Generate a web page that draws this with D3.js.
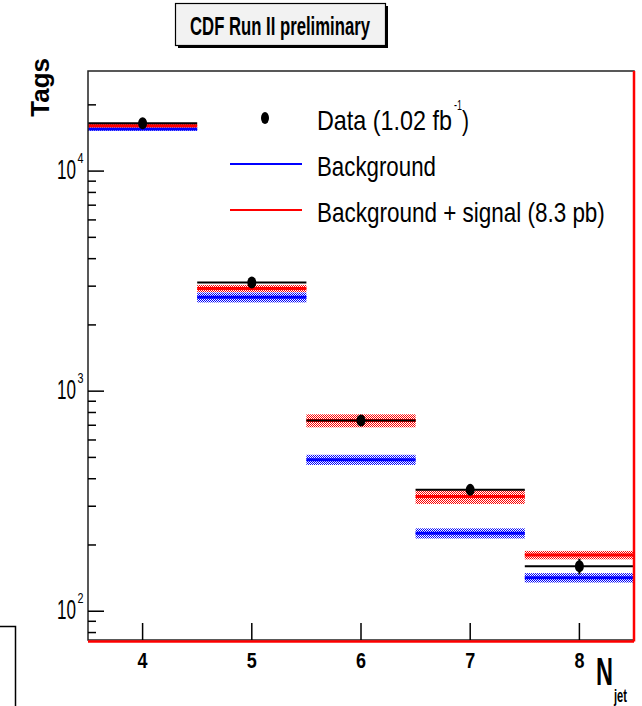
<!DOCTYPE html>
<html>
<head>
<meta charset="utf-8">
<script src="https://cdn.jsdelivr.net/npm/d3@7"></script>
<style>
  html, body { margin: 0; padding: 0; background: #fff; }
  svg { display: block; }
  text { font-family: "Liberation Sans", Arial, sans-serif; fill: #000; }
</style>
</head>
<body>
<div id="chart"></div>
<script>
// N_jet bins
const categories = [4, 5, 6, 7, 8];
// observed tags and their error
const dataVals = [16480, 3120, 736, 356, 160];
const dataErr = [130, 56, 27, 19, 13];
// background prediction (blue) with uncertainty
const bgVals = [15520, 2670, 488, 226, 142];
const bgErr = [280, 140, 26, 12, 7];
// background + signal (red) with uncertainty
const sigVals = [16070, 2930, 735, 332, 180];
const sigErr = [300, 110, 50, 25, 8];

const yMajor = [100, 1000, 10000];
const yMinor = [80, 90, 200, 300, 400, 500, 600, 700, 800, 900,
                2000, 3000, 4000, 5000, 6000, 7000, 8000, 9000, 20000];
const yMajorExp = ["2", "3", "4"];

const legendItems = [
    { label: "Data (1.02 fb", type: "dot", width: 135 },
    { label: "Background", type: "line", color: "#0000ff", width: 119 },
    { label: "Background + signal (8.3 pb)", type: "line", color: "#ff0000", width: 288 },
];

const W = 642, H = 706;
const frame = { left: 88, right: 634, top: 71, bottom: 640 };

const svg = d3.select("#chart").append("svg").attr("width", W).attr("height", H);

const x = d3.scaleLinear().domain([3.5, 8.5]).range([frame.left, frame.right]);
const y = d3.scaleLog().domain([74, 28500]).range([frame.bottom, frame.top]);

// hatch patterns (checkerboard like the ROOT fill style)
const defs = svg.append("defs");
function checker(id, color) {
    const p = defs.append("pattern").attr("id", id)
        .attr("width", 2).attr("height", 2).attr("patternUnits", "userSpaceOnUse");
    p.append("rect").attr("x", 0).attr("y", 0).attr("width", 1).attr("height", 1).attr("fill", color);
    p.append("rect").attr("x", 1).attr("y", 1).attr("width", 1).attr("height", 1).attr("fill", color);
}
checker("hatchBlue", "#0000ff");
checker("hatchRed", "#ff0000");

// the original fonts are condensed: squeeze each text horizontally to its measured width
function label(g, str, px, py, size, width, opts = {}) {
    const t = g.append("text").attr("font-size", size)
        .attr("text-anchor", opts.anchor || "start")
        .text(str);
    if (opts.bold) t.attr("font-weight", "bold");
    const natural = t.node().getComputedTextLength();
    const sx = Math.min(1, width / natural);
    t.attr("transform", `translate(${px},${py}) scale(${sx},1)`);
    return t;
}

// title box
svg.append("rect").attr("x", 178).attr("y", 6).attr("width", 210).attr("height", 42).attr("fill", "#000");
svg.append("rect").attr("x", 175.5).attr("y", 3.5).attr("width", 210).attr("height", 42)
    .attr("fill", "#f2f2f2").attr("stroke", "#000").attr("stroke-width", 1.2);
label(svg, "CDF Run II preliminary", 280, 35, 25, 180, { anchor: "middle", bold: true });

// little stray pad corner at bottom-left
svg.append("path").attr("d", "M0,626.5 H15.5 V706").attr("fill", "none").attr("stroke", "#000").attr("stroke-width", 1.5);

const plot = svg.append("g");
const bins = categories.map((c, i) => ({
    c, data: dataVals[i], dErr: dataErr[i],
    bg: bgVals[i], bgE: bgErr[i], sig: sigVals[i], sigE: sigErr[i],
}));

function drawHist(valKey, errKey, color, pattern) {
    plot.selectAll(null).data(bins).enter().append("rect")
        .attr("x", d => x(d.c - 0.5))
        .attr("width", d => x(d.c + 0.5) - x(d.c - 0.5))
        .attr("y", d => y(d[valKey] + d[errKey]))
        .attr("height", d => y(d[valKey] - d[errKey]) - y(d[valKey] + d[errKey]))
        .attr("fill", `url(#${pattern})`);
    plot.selectAll(null).data(bins).enter().append("line")
        .attr("x1", d => x(d.c - 0.5)).attr("x2", d => x(d.c + 0.5))
        .attr("y1", d => y(d[valKey])).attr("y2", d => y(d[valKey]))
        .attr("stroke", color).attr("stroke-width", 3);
}
drawHist("bg", "bgE", "#0000ff", "hatchBlue");
drawHist("sig", "sigE", "#ff0000", "hatchRed");

// data: black bin lines, error bars, markers
plot.selectAll(null).data(bins).enter().append("line")
    .attr("x1", d => x(d.c - 0.5)).attr("x2", d => x(d.c + 0.5))
    .attr("y1", d => y(d.data)).attr("y2", d => y(d.data))
    .attr("stroke", "#000").attr("stroke-width", 2);
plot.selectAll(null).data(bins).enter().append("line")
    .attr("x1", d => x(d.c)).attr("x2", d => x(d.c))
    .attr("y1", d => y(d.data - d.dErr)).attr("y2", d => y(d.data + d.dErr))
    .attr("stroke", "#000").attr("stroke-width", 2);
plot.selectAll(null).data(bins).enter().append("ellipse")
    .attr("cx", d => x(d.c)).attr("cy", d => y(d.data))
    .attr("rx", 4.5).attr("ry", 6).attr("fill", "#000");

// frame
svg.append("rect").attr("x", frame.left).attr("y", frame.top)
    .attr("width", frame.right - frame.left).attr("height", frame.bottom - frame.top)
    .attr("fill", "none").attr("stroke", "#222").attr("stroke-width", 1.5);
svg.append("line").attr("x1", frame.right).attr("x2", frame.right)
    .attr("y1", frame.top).attr("y2", frame.bottom + 1.5)
    .attr("stroke", "#ff0000").attr("stroke-width", 2.5);
svg.append("line").attr("x1", frame.left).attr("x2", frame.right)
    .attr("y1", frame.bottom + 1.5).attr("y2", frame.bottom + 1.5)
    .attr("stroke", "#ff0000").attr("stroke-width", 2.5);

// y ticks (inside)
svg.append("g").selectAll("line").data(yMajor).enter().append("line")
    .attr("x1", frame.left).attr("x2", frame.left + 16)
    .attr("y1", d => y(d)).attr("y2", d => y(d))
    .attr("stroke", "#000").attr("stroke-width", 1.5);
svg.append("g").selectAll("line").data(yMinor).enter().append("line")
    .attr("x1", frame.left).attr("x2", frame.left + 8)
    .attr("y1", d => y(d)).attr("y2", d => y(d))
    .attr("stroke", "#000").attr("stroke-width", 1.5);
yMajor.forEach((v, i) => {
    const ty = y(v);
    label(svg, "10", 57, ty + 8, 27, 19);
    label(svg, yMajorExp[i], 77.5, ty - 8, 14, 6);
});

// x ticks (inside, from bottom)
svg.append("g").selectAll("line").data(categories).enter().append("line")
    .attr("x1", d => x(d)).attr("x2", d => x(d))
    .attr("y1", frame.bottom).attr("y2", frame.bottom - 17)
    .attr("stroke", "#000").attr("stroke-width", 1.5);
categories.forEach(c => label(svg, String(c), x(c), 668, 22, 10, { anchor: "middle", bold: true }));

// axis titles
label(svg, "N", 596, 685, 38, 17, { bold: true });
label(svg, "jet", 614, 702, 19, 13, { bold: true });
svg.append("text").attr("transform", "translate(49,58) rotate(-90)")
    .attr("text-anchor", "end").attr("font-size", 26).attr("font-weight", "bold")
    .text("Tags");

// legend
const leg = svg.append("g");
legendItems.forEach((it, i) => {
    const cy = 118 + i * 46;
    if (it.type === "dot") {
        leg.append("ellipse").attr("cx", 265).attr("cy", cy).attr("rx", 4).attr("ry", 6).attr("fill", "#000");
    } else {
        leg.append("line").attr("x1", 230).attr("x2", 302).attr("y1", cy).attr("y2", cy)
            .attr("stroke", it.color).attr("stroke-width", 2);
    }
    label(leg, it.label, 317, cy + 12, 27, it.width);
    if (it.type === "dot") {
        label(leg, "-1", 454, cy - 8, 14, 8);
        label(leg, ")", 462, cy + 12, 27, 7);
    }
});
</script>
</body>
</html>
